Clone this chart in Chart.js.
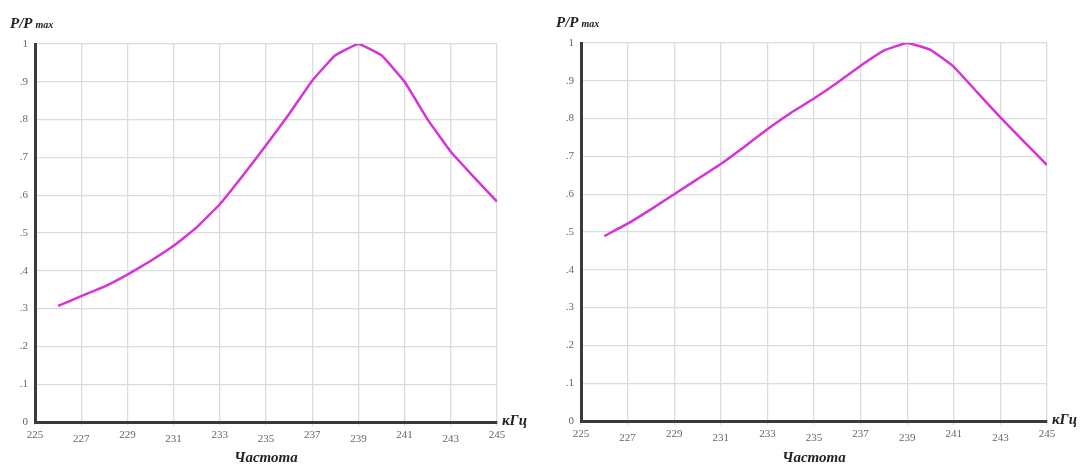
<!DOCTYPE html>
<html>
<head>
<meta charset="utf-8">
<script src="https://cdn.jsdelivr.net/npm/chart.js@4/dist/chart.umd.min.js"></script>
<style>
  html, body { margin: 0; padding: 0; background: #fff; }
  body { width: 1085px; height: 467px; position: relative; overflow: hidden; }
  .box { position: absolute; top: 0; height: 467px; }
  #b1 { left: 0; width: 542px; }
  #b2 { left: 542px; width: 543px; }
</style>
</head>
<body>
<div class="box" id="b1"><canvas id="c1"></canvas></div>
<div class="box" id="b2"><canvas id="c2"></canvas></div>
<script>
// ---- data ----
const frequencies = [226, 227, 228, 229, 230, 231, 232, 233, 234, 235, 236, 237, 238, 239, 240, 241, 242, 243, 244, 245];
const powerLeft  = [0.307, 0.333, 0.358, 0.390, 0.426, 0.466, 0.515, 0.576, 0.652, 0.732, 0.815, 0.903, 0.970, 1.000, 0.970, 0.900, 0.800, 0.715, 0.648, 0.583];
const powerRight = [0.489, 0.522, 0.560, 0.600, 0.640, 0.680, 0.725, 0.772, 0.815, 0.853, 0.895, 0.940, 0.980, 1.000, 0.982, 0.937, 0.870, 0.803, 0.740, 0.677];
const xTickValues = [225, 227, 229, 231, 233, 235, 237, 239, 241, 243, 245];
const yTickLabels = ['0', '.1', '.2', '.3', '.4', '.5', '.6', '.7', '.8', '.9', '1'];
const yAxisTitle = ['P/P', 'max'];
const xAxisTitle = 'Частота';
const xUnit = 'кГц';

const SERIF = '"Liberation Serif", "DejaVu Serif", serif';

const titlesPlugin = {
  id: 'titles',
  afterDraw(chart) {
    const ctx = chart.ctx;
    const ca = chart.chartArea;
    ctx.save();
    ctx.fillStyle = '#222';
    ctx.textBaseline = 'alphabetic';
    ctx.textAlign = 'left';
    // y title
    ctx.font = 'italic bold 15px ' + SERIF;
    const x0 = ca.left - 25;
    ctx.fillText(yAxisTitle[0], x0, ca.top - 16);
    const w = ctx.measureText(yAxisTitle[0]).width;
    ctx.font = 'italic bold 10px ' + SERIF;
    ctx.fillText(yAxisTitle[1], x0 + w + 3, ca.top - 16);
    // unit
    ctx.font = 'italic bold 15px ' + SERIF;
    ctx.textBaseline = 'middle';
    ctx.fillText(xUnit, ca.right + 5, ca.bottom - 1);
    ctx.restore();
  }
};

function makeChart(id, values, geom) {
  const points = frequencies.map((f, i) => ({ x: f, y: values[i] }));
  return new Chart(document.getElementById(id), {
    type: 'line',
    data: {
      datasets: [{
        data: points,
        borderColor: 'rgb(214, 52, 214)',
        borderWidth: 2.5,
        pointRadius: 0,
        tension: 0.1,
        fill: false
      }]
    },
    options: {
      responsive: true,
      maintainAspectRatio: false,
      animation: false,
      events: [],
      layout: { padding: { left: 0, right: geom.right, top: geom.top, bottom: 0 } },
      plugins: { legend: { display: false }, tooltip: { enabled: false }, title: { display: false } },
      scales: {
        x: {
          type: 'linear',
          min: 225, max: 245,
          afterBuildTicks(scale) { scale.ticks = xTickValues.map(v => ({ value: v })); },
          afterFit(scale) { scale.height = geom.xh; },
          grid: { color: '#dcdcdc', lineWidth: 1.3, tickLength: 4, drawTicks: true, tickColor: '#e2e2e2' },
          border: { display: true, color: '#3a3a3a', width: 3 },
          ticks: {
            padding: 3,
            color: '#666',
            maxRotation: 0,
            autoSkip: false,
            font: (c) => ({ family: SERIF, size: 11, lineHeight: (c.index % 2) ? 1.9 : 1.2 }),
            callback: (v) => String(v)
          },
          title: {
            display: true,
            text: xAxisTitle,
            color: '#222',
            font: { family: SERIF, size: 15, style: 'italic', weight: 'bold' },
            padding: { top: 0, bottom: 0 }
          }
        },
        y: {
          type: 'linear',
          min: 0, max: 1,
          afterBuildTicks(scale) { scale.ticks = yTickLabels.map((t, i) => ({ value: i / 10 })); },
          afterFit(scale) { scale.width = geom.yw; },
          grid: { color: '#dcdcdc', lineWidth: 1.3, drawTicks: false },
          border: { display: true, color: '#3a3a3a', width: 3 },
          ticks: {
            padding: 7,
            color: '#666',
            autoSkip: false,
            font: { family: SERIF, size: 11 },
            callback: (v) => yTickLabels[Math.round(v * 10)]
          }
        }
      }
    },
    plugins: [titlesPlugin]
  });
}

makeChart('c1', powerLeft,  { top: 44, right: 45, yw: 35, xh: 45 });
makeChart('c2', powerRight, { top: 43, right: 38, yw: 39, xh: 46 });
</script>
</body>
</html>
